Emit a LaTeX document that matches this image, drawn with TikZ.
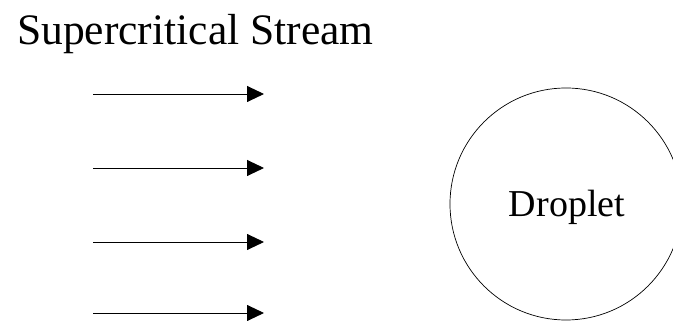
\documentclass[tikz,border=0pt]{standalone}
\usepackage{fontspec}
\setmainfont{Liberation Serif}
\usetikzlibrary{arrows.meta}
\begin{document}
\begin{tikzpicture}[x=1pt,y=1pt,
  flow/.style={line width=0.9pt, -{Triangle[length=17pt,width=16pt]}},
  txt/.style={inner sep=0pt, text=black}]
\useasboundingbox (0,0) rectangle (673,321);
\clip (0,0) rectangle (673,321);
\node[txt, anchor=base west, font=\fontsize{43.5}{48}\selectfont] (title) at (17,276) {Supercritical Stream};
\foreach \i/\y in {1/94,2/168,3/242,4/313}{
  \coordinate (s\i) at (93,321-\y);
  \coordinate (e\i) at (264,321-\y);
  \draw[flow] (s\i) -- (e\i);
}
\node[circle, draw, line width=0.7pt, minimum size=232pt, inner sep=0pt] (drop) at (566,117) {};
\node[txt, anchor=base, font=\fontsize{38}{42}\selectfont] (droplabel) at (567,104) {Droplet};
\end{tikzpicture}
\end{document}
